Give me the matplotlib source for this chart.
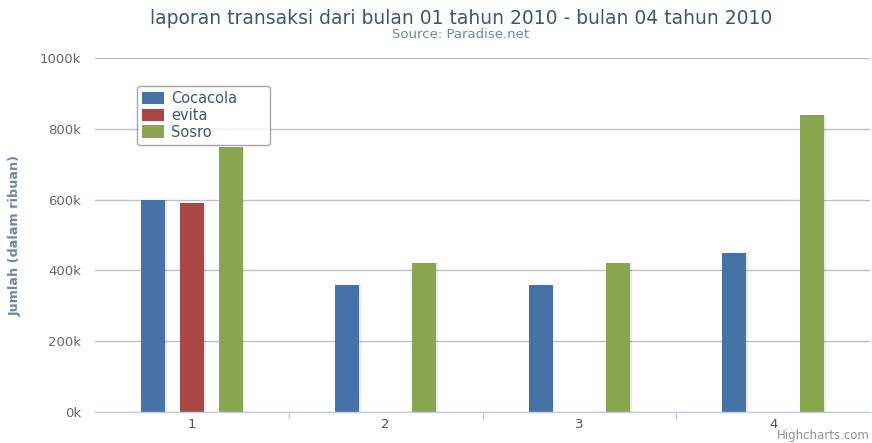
import matplotlib
matplotlib.use("Agg")
import matplotlib.pyplot as plt
from matplotlib.patches import Patch
import numpy as np

categories = ["1", "2", "3", "4"]
series_names = ["Cocacola", "evita", "Sosro"]
cocacola = [600000, 360000, 360000, 450000]
evita = [590000, None, None, None]
sosro = [750000, 420000, 420000, 840000]
colors = ["#4572A7", "#AA4643", "#89A54E"]
y_ticks = [0, 200000, 400000, 600000, 800000, 1000000]
y_tick_labels = ["0k", "200k", "400k", "600k", "800k", "1000k"]

plt.rcParams["font.family"] = ["DejaVu Sans"]

W, H = 872, 443
fig = plt.figure(figsize=(W / 100, H / 100), dpi=100)
left, right, top, bottom = 95, 870, 58, 412
ax = fig.add_axes([left / W, 1 - bottom / H, (right - left) / W, (bottom - top) / H])

x = np.arange(len(categories))
offsets = [-0.2, 0.0, 0.2]
width = 0.125
for vals, off, col, name in zip([cocacola, evita, sosro], offsets, colors, series_names):
    xs = [xi + off for xi, v in zip(x, vals) if v is not None]
    hs = [v for v in vals if v is not None]
    # soft shadow
    ax.bar([xx + 0.008 for xx in xs], hs, width=width, color="#000000", alpha=0.08,
           zorder=2, linewidth=0)
    ax.bar(xs, hs, width=width, color=col, zorder=3, linewidth=0, label=name)

ax.set_xlim(-0.5, len(categories) - 0.5)
ax.set_ylim(0, 1000000)
ax.set_yticks(y_ticks)
ax.set_yticklabels(y_tick_labels)
ax.set_xticks(x)
ax.set_xticklabels(categories)
ax.set_xticks(np.arange(0.5, len(categories) - 0.5, 1.0), minor=True)

ax.grid(axis="y", color="#C0C0C0", linewidth=1, zorder=0)
ax.set_axisbelow(True)
for s in ["top", "right", "left"]:
    ax.spines[s].set_visible(False)
ax.spines["bottom"].set_color("#C0D0E0")
ax.spines["bottom"].set_linewidth(1)
ax.spines["bottom"].set_zorder(4)

ax.tick_params(axis="y", length=0, pad=10, labelcolor="#666666", labelsize=9.5)
ax.tick_params(axis="x", which="major", length=0, pad=4, labelcolor="#555555", labelsize=9.5)
ax.tick_params(axis="x", which="minor", length=5, color="#C0D0E0", width=1)

ax.set_ylabel("Jumlah (dalam ribuan)", color="#6D869F", fontsize=9.2, fontweight="semibold")
ax.yaxis.set_label_coords((22 - left) / (right - left), 0.5)

fig.text(461 / W, 1 - 18 / H, "laporan transaksi dari bulan 01 tahun 2010 - bulan 04 tahun 2010",
         ha="center", va="center", fontsize=13.5, color="#3E576F")
fig.text(461 / W, 1 - 35 / H, "Source: Paradise.net", ha="center", va="center",
         fontsize=9.5, color="#6D869F")
fig.text(870 / W, 1 - 442 / H, "Highcharts.com", ha="right", va="bottom",
         fontsize=8.5, color="#909090")

handles = [Patch(facecolor=c, edgecolor="none") for c in colors]
x0 = (137 - left) / (right - left)
x1 = (270 - left) / (right - left)
y1 = (bottom - 86) / (bottom - top)
y0 = (bottom - 147) / (bottom - top)
leg = ax.legend(handles, series_names, loc="upper left",
                bbox_to_anchor=(x0, y0, x1 - x0, y1 - y0), mode="expand",
                frameon=True, fancybox=True, fontsize=10.5, handlelength=1.5, handleheight=0.95,
                labelspacing=0.12, handletextpad=0.5, borderpad=0.35, shadow=False,
                borderaxespad=0, labelcolor="#3E576F")
leg.get_frame().set_edgecolor("#909090")
leg.get_frame().set_linewidth(1)
leg.set_zorder(5)

fig.savefig("out.png", dpi=100)
